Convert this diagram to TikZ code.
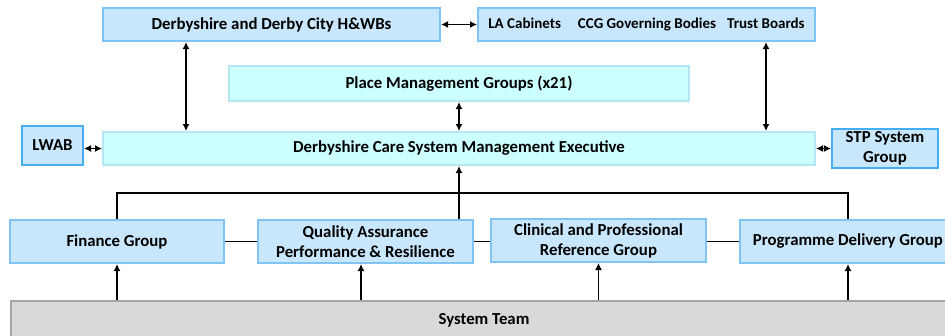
\documentclass[tikz,border=0pt]{standalone}
\usepackage{fontspec}
\setmainfont{Carlito}
\usetikzlibrary{arrows.meta}
\definecolor{bluefill}{HTML}{C9E7FC}
\definecolor{blueline}{HTML}{7FC4F3}
\definecolor{bluestrong}{HTML}{45ADF2}
\definecolor{cyanfill}{HTML}{CCFFFF}
\definecolor{cyanline}{HTML}{B5E6F3}
\definecolor{grayfill}{HTML}{D9D9D9}
\definecolor{grayline}{HTML}{A6A6A6}
\tikzset{
  base/.style={line width=2pt, inner sep=0pt, align=center,
    font=\bfseries\fontsize{16.8}{20}\selectfont},
  bluebox/.style={base, fill=bluefill, draw=blueline},
  strongbox/.style={base, fill=bluefill, draw=bluestrong},
  cyanbox/.style={base, fill=cyanfill, draw=cyanline},
  graybox/.style={base, fill=grayfill, draw=grayline},
  link/.style={line width=1.6pt, black},
  biarrow/.style={link, {Latex[length=7pt,width=7pt]}-{Latex[length=7pt,width=7pt]}},
  uparrow/.style={link, -{Latex[length=7pt,width=7pt]}}
}
\begin{document}
\begin{tikzpicture}[x=1pt,y=-1pt]
\useasboundingbox (0,0) rectangle (945,335);
\clip (0,0) rectangle (945,335);
% boxes
\node[bluebox, minimum width=337, minimum height=33] (hwb) at (271.5,24.5) {Derbyshire and Derby City H\&WBs};
\node[bluebox, minimum width=337, minimum height=33, font=\bfseries\fontsize{15}{18}\selectfont] (la) at (646.5,24.5) {LA Cabinets\hspace{17pt}CCG Governing Bodies\hspace{11pt}Trust Boards};
\node[cyanbox, minimum width=460, minimum height=35] (place) at (459,83.5) {Place Management Groups (x21)};
\node[strongbox, minimum width=61, minimum height=39] (lwab) at (52.5,145.5) {LWAB};
\node[cyanbox, minimum width=712, minimum height=33] (exec) at (459,148.5) {Derbyshire Care System Management Executive};
\node[strongbox, minimum width=106, minimum height=39] (stp) at (885,148.5) {STP System\\Group};
\node[bluebox, minimum width=214, minimum height=43] (fin) at (117,241.5) {Finance Group};
\node[bluebox, minimum width=215, minimum height=43] (qa) at (365.5,241.5) {Quality Assurance\\Performance \& Resilience};
\node[bluebox, minimum width=215, minimum height=43] (clin) at (598.5,240.5) {Clinical and Professional\\Reference Group};
\node[bluebox, minimum width=216, minimum height=43] (prog) at (848,241.5) {Programme Delivery Group};
\node[graybox, minimum width=945, minimum height=50, anchor=north west] (sys) at (10,300) {};
\node[base] (systext) at (484,320) {System Team};
% connectors
\draw[biarrow] (hwb.east) -- (la.west);
\draw[biarrow] (hwb.south -| 186,0) -- (exec.north -| 186,0);
\draw[biarrow] (place.south) -- (exec.north -| place.south);
\draw[biarrow] (la.south -| 766,0) -- (exec.north -| 766,0);
\draw[biarrow] (lwab.east |- exec.west) -- (exec.west);
\draw[biarrow] (exec.east) -- (stp.west |- exec.east);
\coordinate (bus) at (0,193);
\draw[link] (fin.north) -- (fin.north |- bus) -- (prog.north |- bus) -- (prog.north);
\draw[uparrow] (qa.north -| exec.south) -- (exec.south);
\draw[link] (fin.east) -- (qa.west);
\draw[link] (qa.east) -- (clin.west |- qa.east);
\draw[link] (clin.east |- prog.west) -- (prog.west);
\draw[uparrow] (sys.north -| fin.south) -- (fin.south);
\draw[uparrow] (sys.north -| 361,0) -- (qa.south -| 361,0);
\draw[uparrow] (sys.north -| clin.south) -- (clin.south);
\draw[uparrow] (sys.north -| prog.south) -- (prog.south);
\end{tikzpicture}
\end{document}
